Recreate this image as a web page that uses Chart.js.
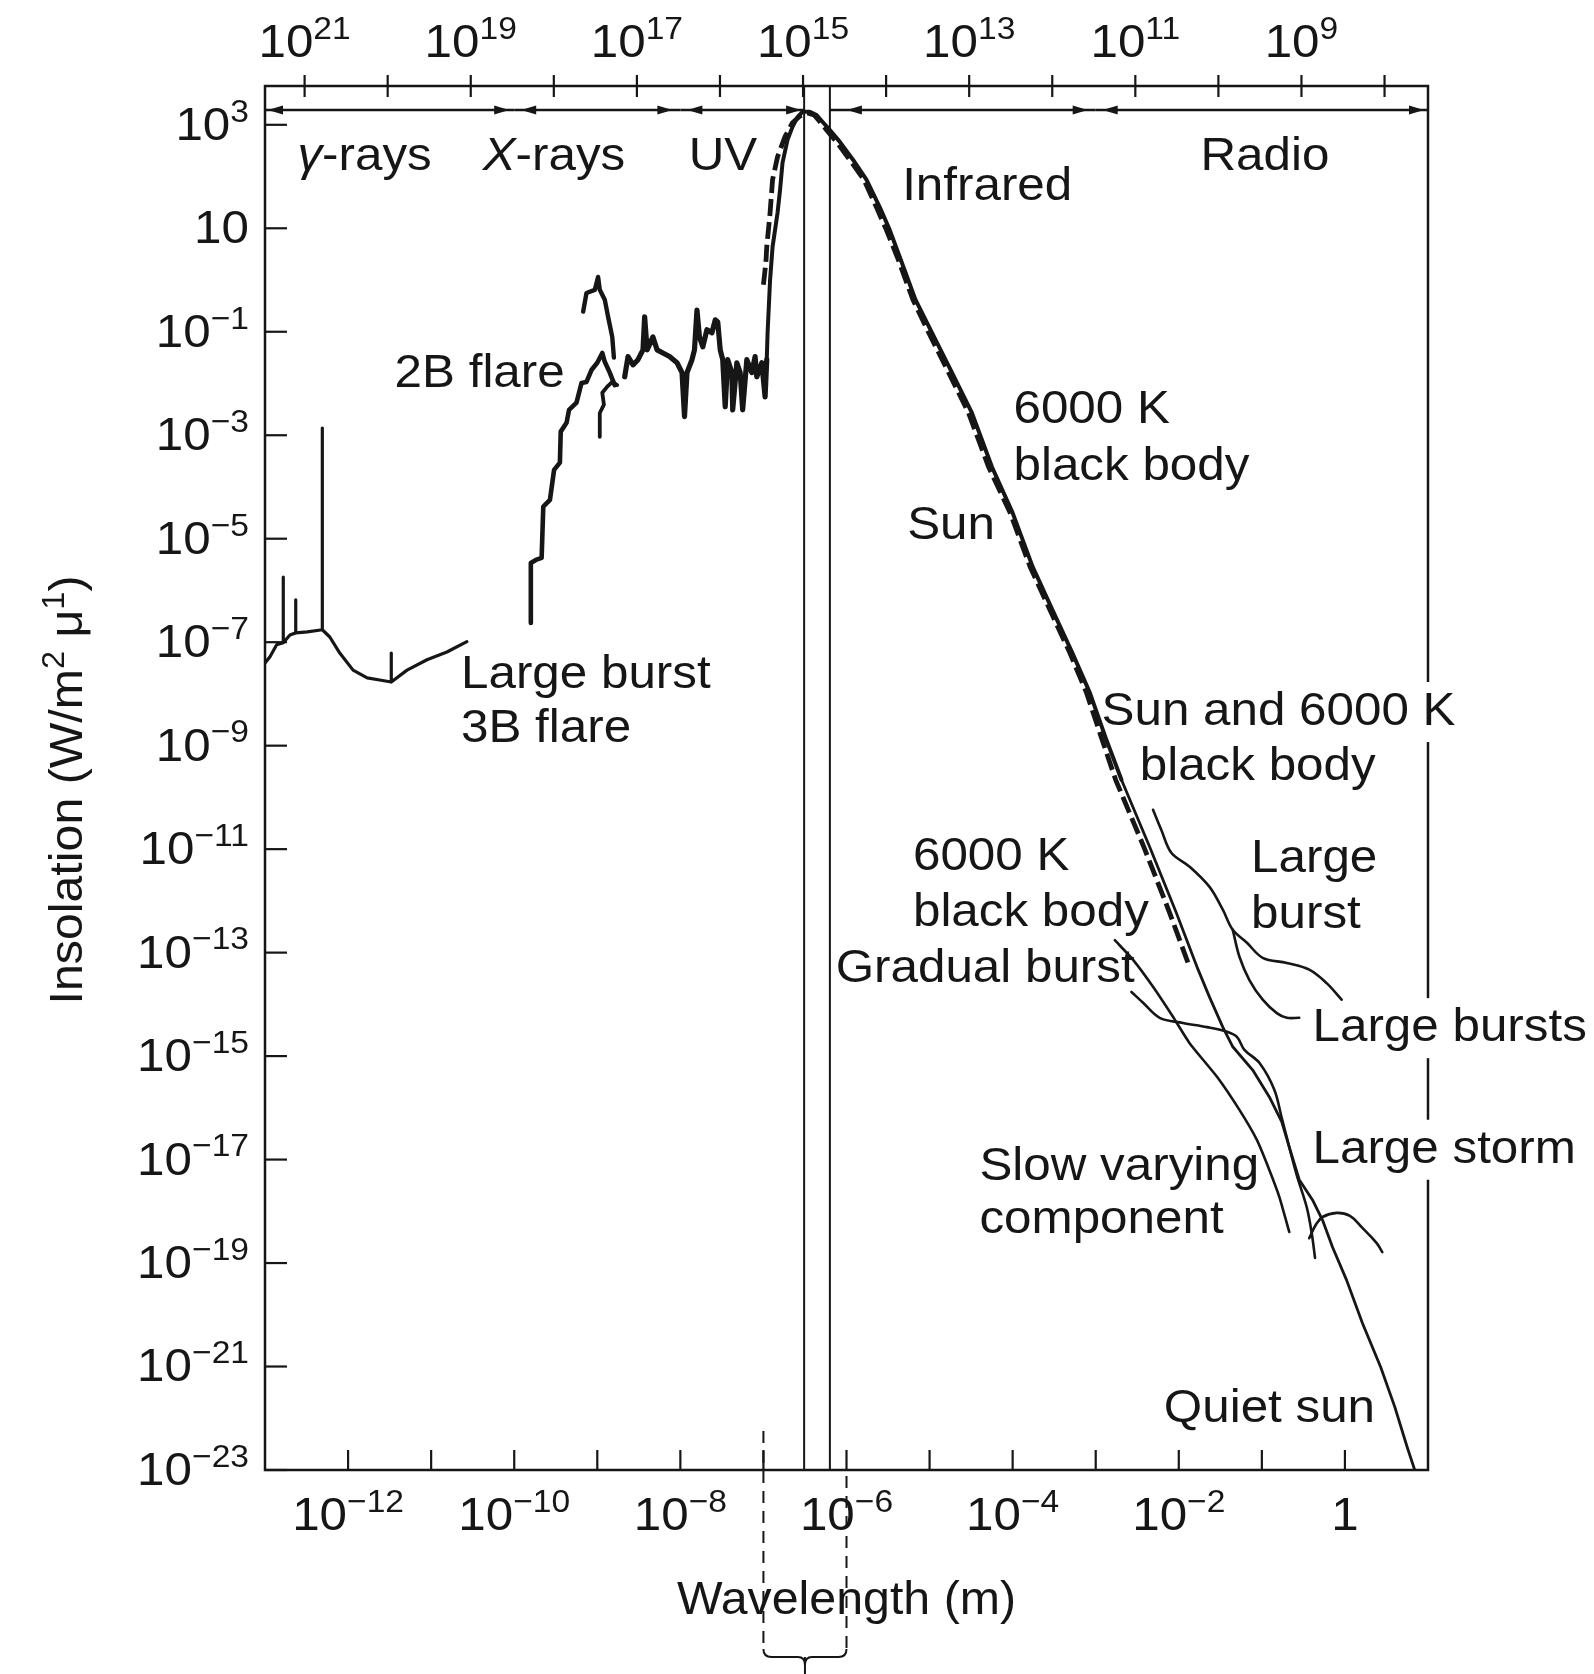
<!DOCTYPE html>
<html>
<head>
<meta charset="utf-8">
<script src="https://cdn.jsdelivr.net/npm/chart.js@4.4.1/dist/chart.umd.min.js"></script>
<style>
  html, body { margin: 0; padding: 0; background: #fff; }
  canvas { display: block; }
</style>
</head>
<body>
<canvas id="spectrum" width="1594" height="1674"></canvas>
<script>
// Solar spectral insolation against wavelength.
// Every pair is [log10 wavelength (m), log10 insolation (W/m² μ)].

// Large burst, 3B flare (gamma-ray region)
const flare3B = [[-13.00,-7.40],[-12.94,-7.28],[-12.86,-7.05],[-12.78,-7.01],[-12.78,-5.74],[-12.78,-7.01],
  [-12.70,-6.86],[-12.63,-6.82],[-12.63,-6.18],[-12.63,-6.82],[-12.49,-6.80],[-12.31,-6.76],[-12.31,-2.86],
  [-12.31,-6.76],[-12.22,-6.90],[-12.10,-7.21],[-11.94,-7.54],[-11.77,-7.69],[-11.62,-7.73],[-11.48,-7.77],
  [-11.48,-7.21],[-11.48,-7.77],[-11.29,-7.54],[-11.05,-7.34],[-10.81,-7.19],[-10.57,-6.99]];

// 2B flare (X-ray region): stepped rise, inner branch and upper arc
const flare2B = [[-9.80,-6.63],[-9.80,-5.47],[-9.74,-5.41],[-9.67,-5.37],[-9.65,-4.38],[-9.57,-4.25],
  [-9.52,-3.67],[-9.45,-3.53],[-9.44,-2.93],[-9.37,-2.76],[-9.34,-2.51],[-9.25,-2.37],[-9.19,-1.99],
  [-9.13,-1.97],[-9.07,-1.74],[-9.00,-1.60],[-8.94,-1.41],[-8.91,-1.58],[-8.85,-1.79],[-8.79,-2.03]];
const flare2BInner = [[-8.97,-3.03],[-8.97,-2.57],[-8.92,-2.41],[-8.94,-2.18],[-8.88,-2.06],[-8.82,-1.97],[-8.76,-2.03]];
const flare2BArc = [[-9.17,-0.61],[-9.13,-0.25],[-9.03,-0.19],[-8.99,0.06],[-8.97,-0.19],[-8.91,-0.38],
  [-8.87,-0.71],[-8.82,-1.10],[-8.80,-1.50]];

// UV flux
const uvBand = [[-8.67,-1.87],[-8.63,-1.48],[-8.57,-1.64],[-8.51,-1.54],[-8.45,-1.35],[-8.43,-0.71],[-8.40,-1.35],
  [-8.33,-1.10],[-8.28,-1.35],[-8.21,-1.41],[-8.13,-1.48],[-8.04,-1.60],[-7.98,-1.79],[-7.95,-2.64],[-7.92,-1.79],
  [-7.86,-1.54],[-7.83,-1.35],[-7.80,-0.58],[-7.77,-1.10],[-7.73,-1.29],[-7.68,-0.96],[-7.62,-1.02],[-7.58,-0.77],
  [-7.55,-0.81],[-7.52,-1.35],[-7.49,-1.54],[-7.46,-2.45],[-7.43,-1.54],[-7.38,-1.79],[-7.37,-2.51],[-7.32,-1.60],
  [-7.28,-1.79],[-7.25,-2.51],[-7.20,-1.54],[-7.14,-1.79],[-7.10,-1.48],[-7.08,-1.87],[-7.02,-1.60],[-6.98,-2.26],
  [-6.96,-1.54]];

// Sun (measured)
const sun = [[-6.96,-1.54],[-6.95,-1.02],[-6.92,0.00],[-6.89,0.64],[-6.83,1.30],[-6.80,1.74],[-6.77,2.27],
  [-6.71,2.71],[-6.65,2.96],[-6.59,3.15],[-6.53,3.25],[-6.44,3.25],[-6.36,3.19],[-6.29,3.06],[-6.20,2.90],
  [-6.08,2.67],[-5.92,2.32],[-5.76,1.94],[-5.60,1.41],[-5.48,0.97],[-5.36,0.45],[-5.17,-0.38],[-4.97,-1.02],
  [-4.73,-1.79],[-4.49,-2.57],[-4.25,-3.61],[-4.00,-4.50],[-3.76,-5.54],[-3.52,-6.38],[-3.28,-7.21],
  [-3.07,-7.98],[-2.88,-8.85],[-2.69,-9.66]];

// Quiet sun (radio)
const quietSun = [[-2.69,-9.66],[-2.35,-10.96],[-2.03,-12.23],[-1.78,-13.28],[-1.63,-13.86],[-1.47,-14.44],
  [-1.35,-14.82],[-1.11,-15.27],[-0.91,-15.79],[-0.76,-16.27],[-0.67,-16.76],[-0.55,-17.39],[-0.39,-17.78],
  [-0.27,-18.17],[-0.15,-18.69],[0.02,-19.33],[0.21,-20.16],[0.43,-21.01],[0.60,-21.78],[0.75,-22.56],[0.84,-23.00]];

// 6000 K black body
const blackBody = [[-7.00,-0.09],[-6.97,0.35],[-6.96,0.64],[-6.92,1.30],[-6.89,1.94],[-6.83,2.38],[-6.74,2.77],
  [-6.65,3.04],[-6.56,3.17],[-6.47,3.23],[-6.39,3.19],[-6.32,3.06],[-6.24,2.90],[-6.12,2.67],[-5.96,2.32],
  [-5.79,1.94],[-5.64,1.41],[-5.52,0.97],[-5.39,0.45],[-5.20,-0.38],[-5.01,-1.02],[-4.77,-1.79],[-4.53,-2.57],
  [-4.29,-3.61],[-4.03,-4.50],[-3.79,-5.54],[-3.55,-6.38],[-3.31,-7.21],[-3.11,-7.98],[-2.93,-8.85],
  [-2.76,-9.66],[-2.42,-10.96],[-2.11,-12.23],[-1.87,-13.28]];

// Radio events
const largeBurst = [[-2.31,-10.24],[-2.21,-10.63],[-2.09,-11.07],[-1.87,-11.34],[-1.63,-11.73],[-1.47,-12.17],
  [-1.35,-12.56],[-1.18,-12.81],[-0.99,-13.10],[-0.70,-13.20],[-0.43,-13.33],[-0.22,-13.59],[-0.04,-13.91]];
const largeBursts = [[-1.35,-12.56],[-1.27,-13.08],[-1.15,-13.53],[-0.99,-13.91],[-0.82,-14.17],[-0.70,-14.26],[-0.55,-14.26]];
const slowVarying = [[-2.77,-12.76],[-2.55,-13.14],[-2.31,-13.66],[-2.07,-14.24],[-1.87,-14.75],[-1.54,-15.40],
  [-1.27,-16.04],[-1.06,-16.62],[-0.91,-17.20],[-0.79,-17.72],[-0.67,-18.40]];
const gradualBurst = [[-2.57,-13.76],[-2.43,-13.97],[-2.23,-14.26],[-1.95,-14.36],[-1.66,-14.44],[-1.42,-14.53],
  [-1.30,-14.63],[-1.21,-14.88],[-1.03,-15.13],[-0.85,-15.65],[-0.76,-16.20],[-0.67,-16.76],[-0.58,-17.30],
  [-0.46,-17.92],[-0.40,-18.42],[-0.36,-18.90]];
const largeStorm = [[-0.43,-18.52],[-0.35,-18.26],[-0.27,-18.11],[-0.10,-18.03],[0.06,-18.09],[0.21,-18.32],
  [0.38,-18.61],[0.45,-18.79]];

// Visible window edges (log10 m) and spectral bands
const visibleEdges = [-6.51, -6.20];
const bandEdges = [[-13, -10], [-10, -8], [-8, -6.51], [-6.20, -3], [-3, 1]];

// Axis ranges and ticks (exponents)
const wlRange = [-13, 1];
const insRange = [-23, 3.75];
const yLabelExps = [3, 1, -1, -3, -5, -7, -9, -11, -13, -15, -17, -19, -21, -23];
const xTickExps = [-12, -11, -10, -9, -8, -7, -6, -5, -4, -3, -2, -1, 0];
const xLabelExps = [-12, -10, -8, -6, -4, -2, 0];
const freqTickExps = [21, 20, 19, 18, 17, 16, 15, 14, 13, 12, 11, 10, 9, 8];
const freqLabelExps = [21, 19, 17, 15, 13, 11, 9];
const LIGHT_SPEED = 2.998e8;

// Curve annotations: text, log10 wavelength, log10 insolation, breaks frame
const notes = [
  ['2B flare', -11.44, -1.81],
  ['Large burst', -10.64, -7.63],
  ['3B flare', -10.64, -8.68],
  ['6000 K', -3.99, -2.51],
  ['black body', -3.99, -3.61],
  ['Sun', -5.27, -4.75],
  ['Sun and 6000 K', -2.93, -8.35, true],
  ['black body', -2.47, -9.41],
  ['6000 K', -5.20, -11.15],
  ['black body', -5.20, -12.23],
  ['Large', -1.13, -11.19],
  ['burst', -1.13, -12.27],
  ['Gradual burst', -6.13, -13.32],
  ['Large bursts', -0.39, -14.46, true],
  ['Large storm', -0.39, -16.81, true],
  ['Slow varying', -4.40, -17.14],
  ['component', -4.40, -18.17],
  ['Quiet sun', -2.18, -21.82]
];
const bandNotes = [
  [[{ t: 'γ', italic: true }, { t: '-rays' }], -12.61, 2.38],
  [[{ t: 'X', italic: true }, { t: '-rays' }], -10.38, 2.38],
  [[{ t: 'UV' }], -7.90, 2.38],
  [[{ t: 'Infrared' }], -5.33, 1.80],
  [[{ t: 'Radio' }], -1.74, 2.38]
];

const INK = '#161616';
const FONT = '"Liberation Sans", Arial, Helvetica, sans-serif';
const SX = 1.05;

const toPoints = pairs => pairs.map(([lw, li]) => ({ x: Math.pow(10, lw), y: Math.pow(10, li) }));

function series(pairs, width, opts) {
  return Object.assign({
    data: toPoints(pairs),
    borderColor: INK,
    borderWidth: width,
    pointRadius: 0,
    fill: false,
    tension: 0,
    borderJoinStyle: 'round',
    borderCapStyle: 'round'
  }, opts || {});
}

function verticalLine(exp) {
  return {
    data: [{ x: Math.pow(10, exp), y: Math.pow(10, insRange[0]) }, { x: Math.pow(10, exp), y: Math.pow(10, insRange[1]) }],
    borderColor: INK, borderWidth: 2, pointRadius: 0, fill: false
  };
}

function fontOf(p) { return (p.italic ? 'italic ' : '') + (p.size || 47) + 'px ' + FONT; }
function runWidth(ctx, parts) {
  return parts.reduce((w, p) => { ctx.font = fontOf(p); return w + ctx.measureText(p.t).width * SX; }, 0);
}
function drawRun(ctx, parts, x, y, align) {
  const w = runWidth(ctx, parts);
  let cx = align === 'center' ? x - w / 2 : align === 'right' ? x - w : x;
  ctx.textBaseline = 'middle';
  ctx.textAlign = 'left';
  parts.forEach(p => {
    ctx.font = fontOf(p);
    const pw = ctx.measureText(p.t).width;
    ctx.save();
    ctx.translate(cx, y + (p.dy || 0));
    ctx.scale(SX, 1);
    ctx.fillText(p.t, 0, 0);
    ctx.restore();
    cx += pw * SX;
  });
  return w;
}
function powerLabel(exp) {
  if (exp === 0) return [{ t: '1', size: 47 }];
  if (exp === 1) return [{ t: '10', size: 47 }];
  return [{ t: '10', size: 47 }, { t: (exp < 0 ? '−' : '') + Math.abs(exp), size: 32, dy: -14 }];
}
function seg(ctx, x0, y0, x1, y1) { ctx.beginPath(); ctx.moveTo(x0, y0); ctx.lineTo(x1, y1); ctx.stroke(); }
function arrowHead(ctx, tipX, y, dir) {
  ctx.beginPath();
  ctx.moveTo(tipX, y);
  ctx.lineTo(tipX - dir * 15, y - 4.5);
  ctx.lineTo(tipX - dir * 15, y + 4.5);
  ctx.closePath();
  ctx.fill();
}

const frameAndLabels = {
  id: 'frameAndLabels',
  beforeDatasetsDraw(chart) {
    const { ctx, chartArea: a, scales: { x, y } } = chart;
    ctx.save();
    ctx.strokeStyle = INK;
    ctx.fillStyle = INK;
    ctx.lineWidth = 2.5;
    ctx.strokeRect(a.left, a.top, a.right - a.left, a.bottom - a.top);

    ctx.lineWidth = 2.2;
    yLabelExps.forEach(e => { const py = y.getPixelForValue(Math.pow(10, e)); seg(ctx, a.left, py, a.left + 22, py); });
    xTickExps.forEach(e => { const px = x.getPixelForValue(Math.pow(10, e)); seg(ctx, px, a.bottom, px, a.bottom - 20); });
    freqTickExps.forEach(n => {
      const px = x.getPixelForValue(LIGHT_SPEED / Math.pow(10, n));
      seg(ctx, px, a.top - 11, px, a.top + 11);
    });

    // spectral band arrows
    const ya = a.top + 24;
    const leftInset = [3, 7, 7, 17, 7];
    const rightInset = [5, 8, 3, 8, 4];
    ctx.lineWidth = 2.5;
    bandEdges.forEach(([from, to], i) => {
      const x0 = x.getPixelForValue(Math.pow(10, from));
      const x1 = x.getPixelForValue(Math.pow(10, to));
      seg(ctx, x0, ya, x1, ya);
      arrowHead(ctx, x0 + leftInset[i], ya, -1);
      arrowHead(ctx, x1 - rightInset[i], ya, 1);
    });
    ctx.restore();
  },
  afterDatasetsDraw(chart) {
    const { ctx, chartArea: a, scales: { x, y } } = chart;
    ctx.save();
    ctx.fillStyle = INK;
    ctx.strokeStyle = INK;

    // curve annotations
    notes.forEach(([text, lw, li, breaksFrame]) => {
      const px = x.getPixelForValue(Math.pow(10, lw));
      const py = y.getPixelForValue(Math.pow(10, li));
      if (breaksFrame) {
        ctx.fillStyle = '#fff';
        ctx.fillRect(a.right - 5, py - 30, 10, 60);
        ctx.fillStyle = INK;
      }
      drawRun(ctx, [{ t: text }], px, py, 'left');
    });
    bandNotes.forEach(([parts, lw, li]) => {
      drawRun(ctx, parts, x.getPixelForValue(Math.pow(10, lw)), y.getPixelForValue(Math.pow(10, li)), 'left');
    });

    // tick labels
    yLabelExps.forEach(e => drawRun(ctx, powerLabel(e), a.left - 16, y.getPixelForValue(Math.pow(10, e)) + 2, 'right'));
    xLabelExps.forEach(e => drawRun(ctx, powerLabel(e), x.getPixelForValue(Math.pow(10, e)), a.bottom + 47, 'center'));
    freqLabelExps.forEach(n => drawRun(ctx, powerLabel(n), x.getPixelForValue(LIGHT_SPEED / Math.pow(10, n)), a.top - 42, 'center'));

    // axis titles
    drawRun(ctx, [{ t: 'Wavelength (m)', size: 46 }], (a.left + a.right) / 2, a.bottom + 131, 'center');
    ctx.save();
    ctx.translate(a.left - 196, (a.top + a.bottom) / 2 + 12);
    ctx.rotate(-Math.PI / 2);
    drawRun(ctx, [{ t: 'Insolation (W/m', size: 46 }, { t: '2', size: 31, dy: -14 }, { t: ' μ', size: 46 },
      { t: '1', size: 31, dy: -14 }, { t: ')', size: 46 }], 0, 0, 'center');
    ctx.restore();

    // dashed guides and brace marking 0.1–1 μm
    const g0 = x.getPixelForValue(1e-7), g1 = x.getPixelForValue(1e-6);
    const braceY = a.bottom + 187;
    ctx.lineWidth = 2;
    ctx.setLineDash([12, 8]);
    seg(ctx, g0, a.bottom - 39, g0, braceY - 8);
    seg(ctx, g1, a.bottom + 6, g1, braceY - 8);
    ctx.setLineDash([]);
    const mid = (g0 + g1) / 2;
    ctx.beginPath();
    ctx.moveTo(g0, braceY - 8);
    ctx.quadraticCurveTo(g0, braceY, g0 + 8, braceY);
    ctx.lineTo(mid - 7, braceY);
    ctx.quadraticCurveTo(mid, braceY, mid, braceY + 8);
    ctx.quadraticCurveTo(mid, braceY, mid + 7, braceY);
    ctx.lineTo(g1 - 8, braceY);
    ctx.quadraticCurveTo(g1, braceY, g1, braceY - 8);
    ctx.stroke();
    seg(ctx, mid, braceY, mid, chart.height);
    ctx.restore();
  }
};

new Chart(document.getElementById('spectrum'), {
  type: 'line',
  data: {
    datasets: [
      verticalLine(visibleEdges[0]),
      verticalLine(visibleEdges[1]),
      series(flare3B, 3.2),
      series(flare2B, 4.6),
      series(flare2BInner, 3.8),
      series(flare2BArc, 4.4),
      series(uvBand, 5.2),
      series(blackBody, 4.8, { borderDash: [17, 6], borderCapStyle: 'butt' }),
      series(sun, 4),
      series(quietSun, 2.8),
      series(largeBurst, 2.6, { tension: 0.35 }),
      series(largeBursts, 2.6, { tension: 0.35 }),
      series(slowVarying, 2.6, { tension: 0.2 }),
      series(gradualBurst, 2.6, { tension: 0.35 }),
      series(largeStorm, 2.6, { tension: 0.4 })
    ]
  },
  options: {
    responsive: false,
    animation: false,
    devicePixelRatio: 1,
    layout: { padding: { left: 265, right: 166, top: 86, bottom: 204 } },
    scales: {
      x: { type: 'logarithmic', min: Math.pow(10, wlRange[0]), max: Math.pow(10, wlRange[1]), display: false },
      y: { type: 'logarithmic', min: Math.pow(10, insRange[0]), max: Math.pow(10, insRange[1]), display: false }
    },
    plugins: { legend: { display: false }, tooltip: { enabled: false } }
  },
  plugins: [frameAndLabels]
});
</script>
</body>
</html>
